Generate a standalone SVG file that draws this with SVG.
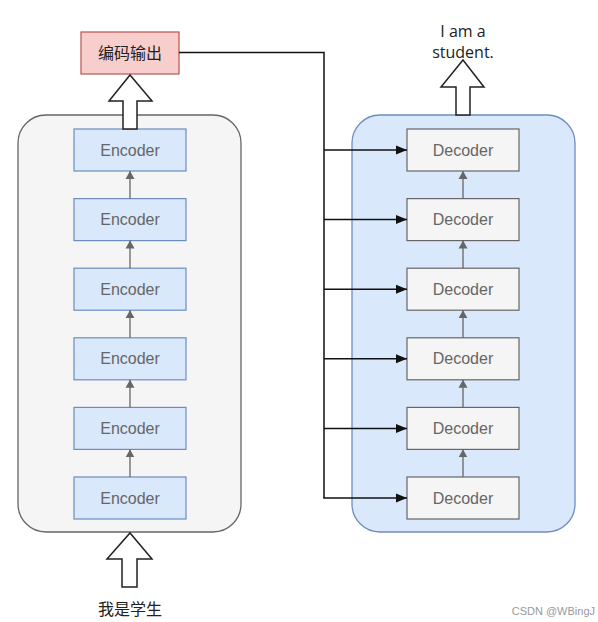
<svg xmlns="http://www.w3.org/2000/svg" width="598" height="622" viewBox="0 0 598 622">
<style>
.enc rect{fill:#dae8fc;stroke:#6c8ebf;stroke-width:1.2}
.dec rect{fill:#f5f5f5;stroke:#666;stroke-width:1.2}
.lbl{font-family:"Liberation Sans",Arial,sans-serif;font-size:16px;fill:#666;text-anchor:middle;dominant-baseline:central}
.cjk{font-family:"Liberation Sans","Noto Sans CJK SC",sans-serif;font-size:16px;fill:#222;text-anchor:middle;dominant-baseline:central}
.eng{font-family:"Open Sans","Liberation Sans",sans-serif;font-size:16px;fill:#222;text-anchor:middle;dominant-baseline:central}
.hollow{fill:#fff;stroke:#222;stroke-width:1.5;stroke-linejoin:miter}
.inner{stroke:#666;stroke-width:1.3;fill:none}
.conn{stroke:#111;stroke-width:1.5;fill:none}
</style>
<defs>
<marker id="ga" markerWidth="10" markerHeight="10" refX="8" refY="5" orient="auto" markerUnits="userSpaceOnUse"><path d="M0,0.5 L8,5 L0,9.5 Z" fill="#666"/></marker>
<marker id="ba" markerWidth="12" markerHeight="10" refX="11" refY="5" orient="auto" markerUnits="userSpaceOnUse"><path d="M0,0.5 L11,5 L0,9.5 Z" fill="#111"/></marker>
</defs>
<rect x="0" y="0" width="598" height="622" fill="#fff"/>
<g id="encoder-stack"><rect x="18" y="115" width="223" height="417" rx="28" ry="28" fill="#f5f5f5" stroke="#666" stroke-width="1.3"/></g>
<g id="decoder-stack"><rect x="352" y="115" width="223" height="417" rx="28" ry="28" fill="#dae8fc" stroke="#6c8ebf" stroke-width="1.3"/></g>
<g id="output-box"><rect x="81" y="32" width="98" height="42" fill="#f8cecc" stroke="#b85450" stroke-width="1.2"/><text class="cjk" x="130" y="53">编码输出</text></g>
<g id="enc1" class="enc"><rect x="74" y="129" width="112" height="42"/><text class="lbl" x="130" y="150">Encoder</text></g>
<g id="enc2" class="enc"><rect x="74" y="198.6" width="112" height="42"/><text class="lbl" x="130" y="219.6">Encoder</text></g>
<g id="enc3" class="enc"><rect x="74" y="268.2" width="112" height="42"/><text class="lbl" x="130" y="289.2">Encoder</text></g>
<g id="enc4" class="enc"><rect x="74" y="337.8" width="112" height="42"/><text class="lbl" x="130" y="358.8">Encoder</text></g>
<g id="enc5" class="enc"><rect x="74" y="407.4" width="112" height="42"/><text class="lbl" x="130" y="428.4">Encoder</text></g>
<g id="enc6" class="enc"><rect x="74" y="477" width="112" height="42"/><text class="lbl" x="130" y="498">Encoder</text></g>
<g id="dec1" class="dec"><rect x="407" y="129" width="112" height="42"/><text class="lbl" x="463" y="150">Decoder</text></g>
<g id="dec2" class="dec"><rect x="407" y="198.6" width="112" height="42"/><text class="lbl" x="463" y="219.6">Decoder</text></g>
<g id="dec3" class="dec"><rect x="407" y="268.2" width="112" height="42"/><text class="lbl" x="463" y="289.2">Decoder</text></g>
<g id="dec4" class="dec"><rect x="407" y="337.8" width="112" height="42"/><text class="lbl" x="463" y="358.8">Decoder</text></g>
<g id="dec5" class="dec"><rect x="407" y="407.4" width="112" height="42"/><text class="lbl" x="463" y="428.4">Decoder</text></g>
<g id="dec6" class="dec"><rect x="407" y="477" width="112" height="42"/><text class="lbl" x="463" y="498">Decoder</text></g>
<g id="input-label"><text class="cjk" x="130" y="609">我是学生</text></g>
<g id="output-label"><text class="eng" x="463" y="31">I am a</text><text class="eng" x="463" y="52">student.</text></g>
<g id="connectors">
<path class="hollow" d="M123,129 V101 H109 L130,75 L152,101 H137 V129 Z"/>
<path class="hollow" d="M122,587 V559 H107 L130,533 L152,559 H137 V587 Z"/>
<path class="hollow" d="M456,115 V87 H441 L463,60 L484,87 H470 V115 Z"/>
<path class="inner" marker-end="url(#ga)" d="M130,198.6 V171"/>
<path class="inner" marker-end="url(#ga)" d="M130,268.2 V240.6"/>
<path class="inner" marker-end="url(#ga)" d="M130,337.8 V310.2"/>
<path class="inner" marker-end="url(#ga)" d="M130,407.4 V379.8"/>
<path class="inner" marker-end="url(#ga)" d="M130,477 V449.4"/>
<path class="inner" marker-end="url(#ga)" d="M463,198.6 V171"/>
<path class="inner" marker-end="url(#ga)" d="M463,268.2 V240.6"/>
<path class="inner" marker-end="url(#ga)" d="M463,337.8 V310.2"/>
<path class="inner" marker-end="url(#ga)" d="M463,407.4 V379.8"/>
<path class="inner" marker-end="url(#ga)" d="M463,477 V449.4"/>
<path class="conn" d="M179,52.5 H324 V498"/>
<path class="conn" marker-end="url(#ba)" d="M324,150 H407"/>
<path class="conn" marker-end="url(#ba)" d="M324,219.6 H407"/>
<path class="conn" marker-end="url(#ba)" d="M324,289.2 H407"/>
<path class="conn" marker-end="url(#ba)" d="M324,358.8 H407"/>
<path class="conn" marker-end="url(#ba)" d="M324,428.4 H407"/>
<path class="conn" marker-end="url(#ba)" d="M323.25,498 H407"/>
</g>
<text x="595" y="611" font-family="'Liberation Sans',Arial,sans-serif" font-size="11" fill="#999" text-anchor="end" dominant-baseline="central">CSDN @WBingJ</text>
</svg>
